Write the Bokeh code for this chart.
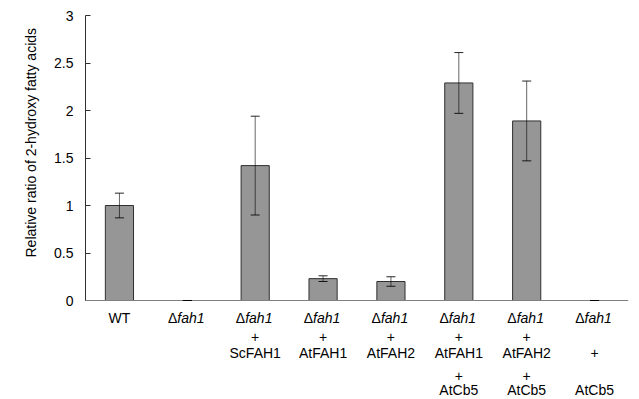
from bokeh.plotting import figure
from bokeh.models import ColumnDataSource, Range1d, FixedTicker, Whisker, TeeHead, Span, Title
from bokeh.core.properties import value
from bokeh.embed import file_html
from bokeh.resources import INLINE

# ---- data ----
strain_line1 = ["WT", "Δfah1", "Δfah1", "Δfah1", "Δfah1", "Δfah1", "Δfah1", "Δfah1"]
plus_line1 = ["", "", "+", "+", "+", "+", "+", ""]
gene_line1 = ["", "", "ScFAH1", "AtFAH1", "AtFAH2", "AtFAH1", "AtFAH2", "+"]
plus_line2 = ["", "", "", "", "", "+", "+", ""]
gene_line2 = ["", "", "", "", "", "AtCb5", "AtCb5", "AtCb5"]
ratio = [1.00, 0.0, 1.42, 0.23, 0.20, 2.29, 1.89, 0.0]
error = [0.13, 0.0, 0.52, 0.03, 0.05, 0.32, 0.42, 0.0]
y_ticks = [0, 0.5, 1, 1.5, 2, 2.5, 3]
y_tick_labels = ["0", "0.5", "1", "1.5", "2", "2.5", "3"]
y_title = "Relative ratio of 2-hydroxy fatty acids"

FONT = "Liberation Sans"
FS = "14px"
PX_PER_UNIT = 95.0
W, H = 639, 399
TOP, LEFT, RIGHT = 15, 85, 11


def py2y(offset_px):
    # offset below the zero line in pixels -> data units
    return -offset_px / PX_PER_UNIT


n = len(ratio)
xs = [i + 0.5 for i in range(n)]
src = ColumnDataSource(dict(
    x=xs, top=ratio,
    upper=[r + e for r, e in zip(ratio, error)],
    lower=[r - e for r, e in zip(ratio, error)],
    la=[0.0 if r == 0 else 1.0 for r in ratio],
))

p = figure(width=W, height=H, output_backend="svg", toolbar_location=None,
           x_range=Range1d(0, n), y_range=Range1d(3 - (H - TOP) / PX_PER_UNIT, 3.0),
           x_axis_location=None, min_border_left=LEFT, min_border_right=RIGHT,
           min_border_top=TOP, min_border_bottom=0)
p.outline_line_color = None
p.grid.visible = False

p.add_layout(Span(location=0, dimension="width", line_color="#808080", line_width=1))

p.vbar(x="x", top="top", bottom=0, width=0.415, source=src,
       fill_color="#969696", line_color="#303030", line_alpha="la", line_width=1)

wh = Whisker(source=src, base="x", upper="upper", lower="lower",
             line_color="black", line_alpha=0.6, line_width=1, level="overlay",
             upper_head=TeeHead(size=9, line_color="black", line_alpha=0.85, line_width=1),
             lower_head=TeeHead(size=9, line_color="black", line_alpha=0.85, line_width=1))
p.add_layout(wh)

yax = p.yaxis[0]
yax.bounds = (0, 3)
yax.ticker = FixedTicker(ticks=y_ticks)
yax.major_label_overrides = {t: l for t, l in zip(y_ticks, y_tick_labels)}
yax.major_tick_in = 5
yax.major_tick_out = 0
yax.minor_tick_in = 0
yax.minor_tick_out = 0
yax.axis_line_color = "#303030"
yax.major_tick_line_color = "#303030"
yax.major_label_standoff = 12
yax.major_label_text_font = FONT
yax.major_label_text_font_size = FS
yax.major_label_text_color = "black"

# y title in the left panel, shifted up from the frame's bottom edge
p.add_layout(Title(text=y_title, align="left", offset=142, standoff=26,
                   text_font=FONT, text_font_size=FS, text_font_style="normal",
                   text_color="black"), "left")


# ---- category labels ----
def add_row(texts, offset_px):
    plain_x, plain_t = [], []
    d_x, f_t = [], []
    for x, t in zip(xs, texts):
        if not t:
            continue
        if t.startswith("Δ"):
            d_x.append(x)
            f_t.append(t[1:])
        else:
            plain_x.append(x)
            plain_t.append(t)
    y = py2y(offset_px)
    if plain_x:
        p.text(x=plain_x, y=[y] * len(plain_x), text=plain_t, text_align="center",
               text_baseline="middle", text_font=value(FONT), text_font_size=FS,
               text_color="black")
    if d_x:
        p.text(x=d_x, y=[y] * len(d_x), text=["Δ"] * len(d_x), text_align="right",
               text_baseline="middle", text_font=value(FONT), text_font_size=FS,
               text_color="black", x_offset=-10)
        p.text(x=d_x, y=[y] * len(d_x), text=f_t, text_align="left",
               text_baseline="middle", text_font=value(FONT), text_font_size=FS,
               text_font_style="italic", text_color="black", x_offset=-10)


add_row(strain_line1, 17)
add_row(plus_line1, 36.5)
add_row(gene_line1, 52)
add_row(plus_line2, 75)
add_row(gene_line2, 89)

open("out.html", "w").write(file_html(p, INLINE))
